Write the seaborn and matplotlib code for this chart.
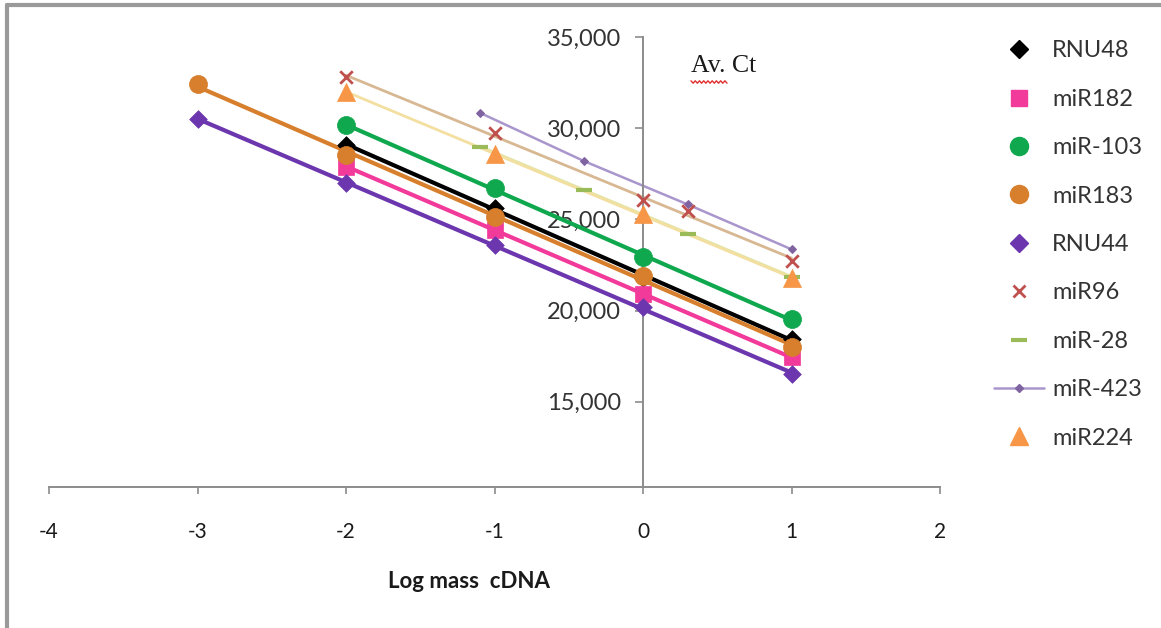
import numpy as np
import seaborn as sns
import matplotlib.pyplot as plt
from matplotlib.lines import Line2D
from matplotlib.ticker import FuncFormatter

# Log mass cDNA (x) vs average Ct (y), one pair of lists per assay
rnu48_x = [-2, -1, 0, 1]
rnu48_y = [29100, 25650, 21800, 18450]
mir182_x = [-2, -1, 0, 1]
mir182_y = [27900, 24430, 20920, 17430]
mir103_x = [-2, -1, 0, 1]
mir103_y = [30170, 26720, 22930, 19520]
mir183_x = [-3, -2, -1, 0, 1]
mir183_y = [32420, 28520, 25130, 21920, 18030]
rnu44_x = [-3, -2, -1, 0, 1]
rnu44_y = [30500, 27000, 23570, 20220, 16500]
mir96_x = [-2, -1, 0, 0.301, 1]
mir96_y = [32790, 29710, 26080, 25460, 22730]
mir28_x = [-1.097, -0.398, 0.301, 1]
mir28_y = [28970, 26630, 24210, 21850]
mir423_x = [-1.097, -0.398, 0.301, 1]
mir423_y = [30840, 28200, 25820, 23360]
mir224_x = [-2, -1, 0, 1]
mir224_y = [32000, 28570, 25280, 21780]

x_ticks = [-4, -3, -2, -1, 0, 1, 2]
y_ticks = [15000, 20000, 25000, 30000, 35000]

# name, x, y, marker, marker colour, trendline colour, line width, marker size
series = [
    ("RNU48", rnu48_x, rnu48_y, "D", "#000000", "#000000", 3.0, 9),
    ("miR182", mir182_x, mir182_y, "s", "#F23A9A", "#F23A9A", 3.0, 11),
    ("miR-103", mir103_x, mir103_y, "o", "#10A84E", "#10A84E", 3.0, 13),
    ("miR183", mir183_x, mir183_y, "o", "#D77F2C", "#D77F2C", 3.0, 13),
    ("RNU44", rnu44_x, rnu44_y, "D", "#6B36AE", "#6B36AE", 3.0, 9),
    ("miR96", mir96_x, mir96_y, "x", "#C0504D", "#D8B892", 2.0, 9),
    ("miR-28", mir28_x, mir28_y, "_", "#9BBB59", "#E2E6A8", 2.5, 12),
    ("miR-423", mir423_x, mir423_y, "D", "#8064A2", "#A996CC", 1.8, 4),
    ("miR224", mir224_x, mir224_y, "^", "#F79646", "#F3DFA0", 2.0, 13),
]

sns.set_style("white")
plt.rcParams["font.family"] = ["Lato", "DejaVu Sans"]
plt.rcParams["axes.unicode_minus"] = False

fig = plt.figure(figsize=(11.61, 6.28), dpi=100)
ax = fig.add_axes([49 / 1161, 1 - 487 / 628, 891 / 1161, 450 / 628])

for i, (name, xs, ys, mk, mc, lc, lw, ms) in enumerate(series):
    if name == "miR-423":
        sns.lineplot(x=xs, y=ys, ax=ax, color=lc, linewidth=lw, marker=mk,
                     markersize=ms, markerfacecolor=mc, markeredgecolor=mc,
                     zorder=2)
        continue
    if mk in ("x", "_"):
        skw = {"s": ms ** 2, "alpha": 1, "linewidths": 3 if mk == "_" else 2,
               "color": mc, "zorder": 3 + i}
    else:
        skw = {"s": ms ** 2, "alpha": 1, "linewidths": 0.5, "color": mc,
               "edgecolors": mc, "zorder": 3 + i}
    sns.regplot(x=np.array(xs), y=np.array(ys), ax=ax, ci=None, truncate=True,
                marker=mk, scatter_kws=skw,
                line_kws={"color": lc, "linewidth": lw, "zorder": 2})

ax.set_xlim(-4, 2)
ax.set_ylim(10330, 35000)
ax.set_xticks(x_ticks)
ax.set_yticks(y_ticks)
ax.yaxis.set_major_formatter(FuncFormatter(lambda v, p: f"{v:,.0f}"))
ax.set_xlabel("")
ax.set_ylabel("")

for side in ("top", "right"):
    ax.spines[side].set_visible(False)
ax.spines["left"].set_position(("data", 0))
for side in ("left", "bottom"):
    ax.spines[side].set_color("#8C8C8C")
    ax.spines[side].set_linewidth(1.4)

ax.tick_params(axis="y", direction="out", length=6, width=1.2, color="#8C8C8C",
               pad=10, labelsize=17, labelcolor="#333333", left=True)
ax.tick_params(axis="x", direction="out", length=5, width=1.2, color="#8C8C8C",
               pad=20, labelsize=15, labelcolor="#1A1A1A", bottom=True)

fig.text(469 / 1161, 1 - 581 / 628, "Log mass  cDNA", ha="center", va="center",
         fontsize=16, fontweight="bold", color="#1A1A1A")
fig.text(691 / 1161, 1 - 66 / 628, "Av. Ct", ha="left", va="center",
         fontsize=18.5, color="#1A1A1A", family=["Liberation Serif", "DejaVu Serif"])

# red spell-check squiggle under "Av."
sq_x = np.linspace(691, 727, 18)
sq_y = 82 + np.where(np.arange(18) % 2 == 0, -1.2, 1.2)
fig.add_artist(Line2D(sq_x / 1161, 1 - sq_y / 628, color="#E03030", lw=1))

handles = []
for name, xs, ys, mk, mc, lc, lw, ms in series:
    if name == "miR-423":
        handles.append(Line2D([], [], color=lc, lw=lw, marker=mk, markersize=ms,
                              markerfacecolor=mc, markeredgecolor=mc))
    elif mk in ("x", "_"):
        handles.append(Line2D([], [], ls="none", marker=mk, markersize=ms,
                              color=mc, markeredgewidth=3 if mk == "_" else 2))
    else:
        handles.append(Line2D([], [], ls="none", marker=mk, markersize=ms,
                              markerfacecolor=mc, markeredgecolor=mc))

fig.legend(handles, [s[0] for s in series], loc="upper left",
           bbox_to_anchor=(985 / 1161, 1 - 31 / 628), frameon=False,
           fontsize=17, labelcolor="#333333", handlelength=2.1,
           handletextpad=0.35, labelspacing=1.16, borderaxespad=0)

# chart frame
fig.add_artist(Line2D([7 / 1161, 7 / 1161], [0, 1 - 5 / 628], color="#9A9A9A", lw=3))
fig.add_artist(Line2D([7 / 1161, 1], [1 - 5 / 628, 1 - 5 / 628], color="#9A9A9A", lw=3))

fig.savefig("out.png", dpi=100)
